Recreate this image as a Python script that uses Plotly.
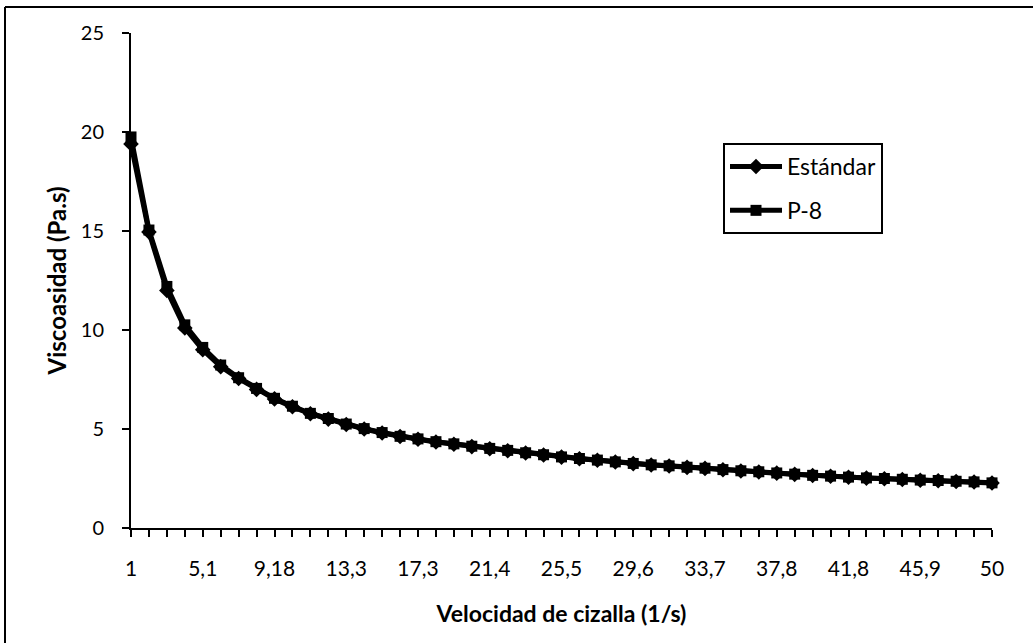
import plotly.graph_objects as go

# Shear rate categories (1/s)
shear_rate = ["1", "2,02", "3,04", "4,06", "5,1", "6,1", "7,12", "8,14", "9,18", "10,2",
              "11,2", "12,2", "13,3", "14,3", "15,3", "16,3", "17,3", "18,3", "19,4", "20,4",
              "21,4", "22,4", "23,4", "24,5", "25,5", "26,5", "27,5", "28,6", "29,6", "30,6",
              "31,6", "32,6", "33,7", "34,7", "35,7", "36,7", "37,8", "38,8", "39,8", "40,8",
              "41,8", "42,9", "43,9", "44,9", "45,9", "46,9", "47,9", "49", "50"]

estandar = [19.4, 14.95, 12.0, 10.1, 9.0, 8.15, 7.55, 7.0, 6.52, 6.12,
            5.77, 5.5, 5.23, 5.0, 4.8, 4.62, 4.48, 4.34, 4.23, 4.11,
            4.0, 3.9, 3.79, 3.69, 3.58, 3.5, 3.42, 3.33, 3.25, 3.18,
            3.13, 3.06, 3.01, 2.94, 2.88, 2.83, 2.77, 2.71, 2.65, 2.61,
            2.56, 2.52, 2.49, 2.45, 2.41, 2.39, 2.35, 2.32, 2.27]

p8 = [19.75, 15.05, 12.2, 10.26, 9.12, 8.23, 7.59, 7.05, 6.55, 6.15,
      5.79, 5.53, 5.25, 5.02, 4.82, 4.63, 4.5, 4.36, 4.25, 4.13,
      4.02, 3.92, 3.80, 3.70, 3.59, 3.51, 3.43, 3.34, 3.26, 3.19,
      3.14, 3.07, 3.02, 2.95, 2.89, 2.84, 2.78, 2.72, 2.66, 2.62,
      2.57, 2.53, 2.50, 2.46, 2.42, 2.40, 2.36, 2.33, 2.28]

y_ticks = [0, 5, 10, 15, 20, 25]
x_tick_text = [c if i % 4 == 0 else "" for i, c in enumerate(shear_rate)]

FONT = "Lato, 'Open Sans', sans-serif"

fig = go.Figure()
fig.add_trace(go.Scatter(
    x=shear_rate, y=estandar, name="Estándar", mode="lines+markers",
    legendgroup="a",
    line=dict(color="black", width=5),
    marker=dict(symbol="diamond", size=12, color="black"),
    cliponaxis=False))
fig.add_trace(go.Scatter(
    x=shear_rate, y=p8, name="P-8", mode="lines+markers",
    legendgroup="b",
    line=dict(color="black", width=5),
    marker=dict(symbol="square", size=11, color="black"),
    cliponaxis=False))

W, H = 1033, 643
L, R, T, B = 131, 1033 - 992, 33, 643 - 528
pw, ph = W - L - R, H - T - B

def px(x):
    return (x - L) / pw

def py(y):
    return (H - B - y) / ph

fig.update_layout(
    width=W, height=H,
    margin=dict(l=L, r=R, t=T, b=B),
    paper_bgcolor="white", plot_bgcolor="white",
    font=dict(family=FONT, size=20, color="black"),
    showlegend=True,
    legend=dict(x=px(723), y=py(143), xanchor="left", yanchor="top",
                bordercolor="black", borderwidth=2, bgcolor="white",
                font=dict(size=23), tracegroupgap=11, itemwidth=52),
    xaxis=dict(type="category", range=[0, len(shear_rate) - 1],
               tickmode="array", tickvals=shear_rate, ticktext=x_tick_text,
               tickangle=0, ticklabelstandoff=14,
               ticks="outside", ticklen=7, tickwidth=1.5, tickcolor="black",
               showline=True, linecolor="black", linewidth=2,
               showgrid=False, zeroline=False,
               tickfont=dict(size=21),
               title=dict(text="<b>Velocidad de cizalla (1/s)</b>", standoff=27,
                          font=dict(size=23))),
    yaxis=dict(range=[0, 25], tickmode="array", tickvals=y_ticks,
               ticks="outside", ticklen=7, tickwidth=1.5, tickcolor="black",
               ticklabelstandoff=14,
               showline=True, linecolor="black", linewidth=2,
               showgrid=False, zeroline=False,
               tickfont=dict(size=20),
               title=dict(text="<b>Viscoasidad (Pa.s)</b>", standoff=7,
                          font=dict(size=24))),
    shapes=[
        dict(type="line", xref="paper", yref="paper",
             x0=px(5), x1=px(1033), y0=py(7), y1=py(7),
             line=dict(color="black", width=2)),
        dict(type="line", xref="paper", yref="paper",
             x0=px(5), x1=px(5), y0=py(7), y1=py(643),
             line=dict(color="black", width=2)),
    ],
)

fig.write_html("out.html",
               config={"displayModeBar": False},
               post_script="document.body.style.margin='0';document.body.style.overflow='hidden';")
